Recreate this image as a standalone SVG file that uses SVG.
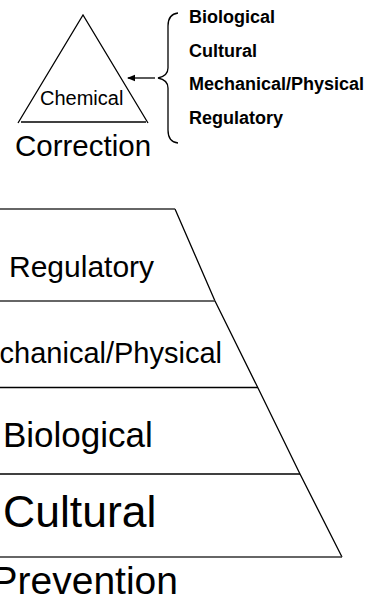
<svg xmlns="http://www.w3.org/2000/svg" width="371" height="596" viewBox="0 0 371 596">
<style>
text{font-family:"Liberation Sans",Arial,sans-serif;fill:#000}
.b{font-weight:bold;font-size:18px}
.ln{stroke:#000;stroke-width:1.3;fill:none}
.tl{stroke:#333;stroke-width:1.3;fill:none}
</style>
<defs>
<marker id="ah" markerWidth="8" markerHeight="8" refX="7" refY="4" orient="auto" markerUnits="userSpaceOnUse">
<path d="M0,0.8 L8,4 L0,7.2 Z" fill="#000"/>
</marker>
</defs>
<rect width="371" height="596" fill="#fff"/>
<g id="correction-triangle">
<polyline class="ln" points="18,123 83,15 148,123"/>
<line class="ln" x1="21" y1="122" x2="146" y2="122" stroke-width="1.6"/>
<text x="40" y="105" font-size="20">Chemical</text>
<text x="15" y="156" font-size="29.5">Correction</text>
</g>
<g id="methods-list">
<path class="ln" d="M178,13 Q168,14 168,26 L168,68 Q168,76 158,78 Q168,80 168,88 L168,130 Q168,142 178,143"/>
<text class="b" x="189" y="23">Biological</text>
<text class="b" x="189" y="56.5">Cultural</text>
<text class="b" x="189" y="90">Mechanical/Physical</text>
<text class="b" x="189" y="123.5">Regulatory</text>
</g>
<g id="connectors">
<line class="ln" x1="155" y1="78" x2="128" y2="78" marker-end="url(#ah)"/>
</g>
<g id="prevention-pyramid">
<polyline class="ln" points="175,209 215,301 258,388 300,474 342,557"/>
<line class="tl" x1="0" y1="209" x2="175" y2="209"/>
<line class="tl" x1="0" y1="301" x2="215" y2="301"/>
<line class="ln" x1="0" y1="387.5" x2="258" y2="387.5"/>
<line class="ln" x1="0" y1="474" x2="300" y2="474"/>
<line class="tl" x1="0" y1="557" x2="342" y2="557"/>
</g>
<g id="layer-regulatory"><text x="9" y="277" font-size="30">Regulatory</text></g>
<g id="layer-mechanical"><text x="222" y="363" font-size="29" text-anchor="end">Mechanical/Physical</text></g>
<g id="layer-biological"><text x="3" y="447" font-size="35">Biological</text></g>
<g id="layer-cultural"><text x="3" y="527" font-size="44.5">Cultural</text></g>
<g id="prevention-label"><text x="178" y="594" font-size="39" text-anchor="end">Prevention</text></g>
</svg>
